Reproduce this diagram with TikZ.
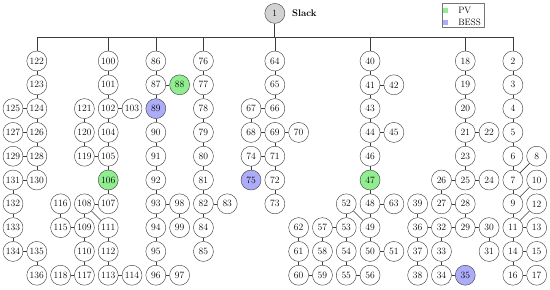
\documentclass[tikz,border=0pt]{standalone}
\usepackage{tikz}
\definecolor{pvc}{RGB}{144,238,144}
\definecolor{bessc}{RGB}{172,172,248}
\definecolor{slackc}{RGB}{210,210,210}
\definecolor{linec}{RGB}{60,60,60}
\tikzset{
  busnode/.style={circle,draw=linec,line width=0.5pt,minimum size=0.84cm,inner sep=0pt,fill=white,font=\fontsize{11.5}{13}\selectfont},
  pvnode/.style={busnode,fill=pvc},
  bessnode/.style={busnode,fill=bessc},
  slacknode/.style={busnode,fill=slackc},
  edge/.style={draw=linec,line width=0.7pt},
  busline/.style={draw=linec,line width=1pt},
  legsq/.style={rectangle,minimum size=0.2cm,inner sep=0pt},
  legtxt/.style={anchor=west,inner sep=0pt,font=\fontsize{11}{12}\selectfont}
}
\begin{document}
\begin{tikzpicture}[x=1cm,y=1cm]
\useasboundingbox (-0.546,-11.62) rectangle (22.56,0.563);
% slack
\node[slacknode] (n1) at (11,0) {1};
\node[anchor=west,inner sep=0pt,font=\fontsize{11.5}{13}\selectfont\bfseries] (slk) at (11.72,0) {Slack};
% bus coordinates
\coordinate (b0) at (11,-1);
\coordinate (bL) at (1,-1);
\coordinate (bR) at (21,-1);
\foreach \n/\c in {122/1,100/4,86/6,76/8,64/11,40/15,18/19,2/21}
  \coordinate (b\n) at (\c,-1);
% plain nodes
\foreach \n/\c/\r in {
 122/1/2,123/1/3,124/1/4,125/0/4,126/1/5,127/0/5,128/1/6,129/0/6,130/1/7,131/0/7,
 132/0/8,133/0/9,134/0/10,135/1/10,136/1/11,
 100/4/2,101/4/3,102/4/4,103/5/4,121/3/4,104/4/5,120/3/5,105/4/6,119/3/6,
 107/4/8,108/3/8,116/2/8,109/3/9,115/2/9,111/4/9,110/3/10,112/4/10,
 117/3/11,118/2/11,113/4/11,114/5/11,
 86/6/2,87/6/3,90/6/5,91/6/6,92/6/7,93/6/8,98/7/8,94/6/9,99/7/9,95/6/10,96/6/11,97/7/11,
 76/8/2,77/8/3,78/8/4,79/8/5,80/8/6,81/8/7,82/8/8,83/9/8,84/8/9,85/8/10,
 64/11/2,65/11/3,66/11/4,67/10/4,68/10/5,69/11/5,70/12/5,74/10/6,71/11/6,72/11/7,73/11/8,
 40/15/2,41/15/3,42/16/3,43/15/4,44/15/5,45/16/5,46/15/6,48/15/8,63/16/8,52/14/8,
 49/15/9,53/14/9,57/13/9,62/12/9,50/15/10,51/16/10,54/14/10,58/13/10,61/12/10,
 55/14/11,56/15/11,59/13/11,60/12/11,
 18/19/2,19/19/3,20/19/4,21/19/5,22/20/5,23/19/6,25/19/7,24/20/7,26/18/7,
 27/18/8,28/19/8,39/17/8,29/19/9,30/20/9,32/18/9,36/17/9,31/20/10,33/18/10,37/17/10,
 34/18/11,38/17/11,
 2/21/2,3/21/3,4/21/4,5/21/5,6/21/6,8/22/6,7/21/7,10/22/7,9/21/8,12/22/8,
 11/21/9,13/22/9,14/21/10,15/22/10,16/21/11,17/22/11}
  \node[busnode] (n\n) at (\c,-\r) {\n};
% PV nodes
\foreach \n/\c/\r in {106/4/7,88/7/3,47/15/7}
  \node[pvnode] (n\n) at (\c,-\r) {\n};
% BESS nodes
\foreach \n/\c/\r in {89/6/4,75/10/7,35/19/11}
  \node[bessnode] (n\n) at (\c,-\r) {\n};
% main bus
\begin{scope}[on background layer/.try]
\end{scope}
\draw[busline] (bL) -- (bR);
\draw[busline] (n1) -- (b0);
\foreach \n in {122,100,86,76,64,40,18,2}
  \draw[edge] (b\n) -- (n\n);
% edges
\foreach \a/\b in {
 122/123,123/124,124/125,124/126,126/127,126/128,128/129,128/130,130/131,131/132,
 132/133,133/134,134/135,135/136,
 100/101,101/102,102/103,102/104,104/105,105/106,106/107,107/108,108/109,108/111,
 109/115,115/116,109/110,110/117,117/118,111/112,112/113,113/114,105/119,119/120,120/121,
 86/87,87/88,87/89,89/90,90/91,91/92,92/93,93/98,98/99,93/94,94/95,95/96,96/97,
 76/77,77/78,78/79,79/80,80/81,81/82,82/83,82/84,84/85,
 64/65,65/66,66/67,67/68,68/69,69/70,69/71,71/74,74/75,71/72,72/73,
 40/41,41/42,41/43,43/44,44/45,44/46,46/47,47/48,48/63,48/49,52/49,52/53,53/57,
 57/58,58/59,59/60,60/61,61/62,53/54,54/55,55/56,49/50,50/51,
 18/19,19/20,20/21,21/22,21/23,23/25,25/24,25/26,26/27,27/28,28/29,29/30,30/31,
 29/32,32/36,36/39,36/37,37/38,32/33,33/34,34/35,
 2/3,3/4,4/5,5/6,6/7,7/8,7/9,9/10,9/11,11/12,11/13,11/14,14/15,14/16,16/17}
  \draw[edge] (n\a) -- (n\b);
% legend
\node[draw=linec!70,line width=0.5pt,fill=white,minimum width=1.76cm,minimum height=1.0cm,inner sep=0pt] (leg) at (18.91,-0.067) {};
\node[legsq,fill=pvc] (lpv) at (18.17,0.12) {};
\node[legsq,fill=bessc] (lbe) at (18.17,-0.38) {};
\node[legtxt] (tpv) at (18.7,0.12) {PV};
\node[legtxt] (tbe) at (18.7,-0.38) {BESS};
\end{tikzpicture}
\end{document}
